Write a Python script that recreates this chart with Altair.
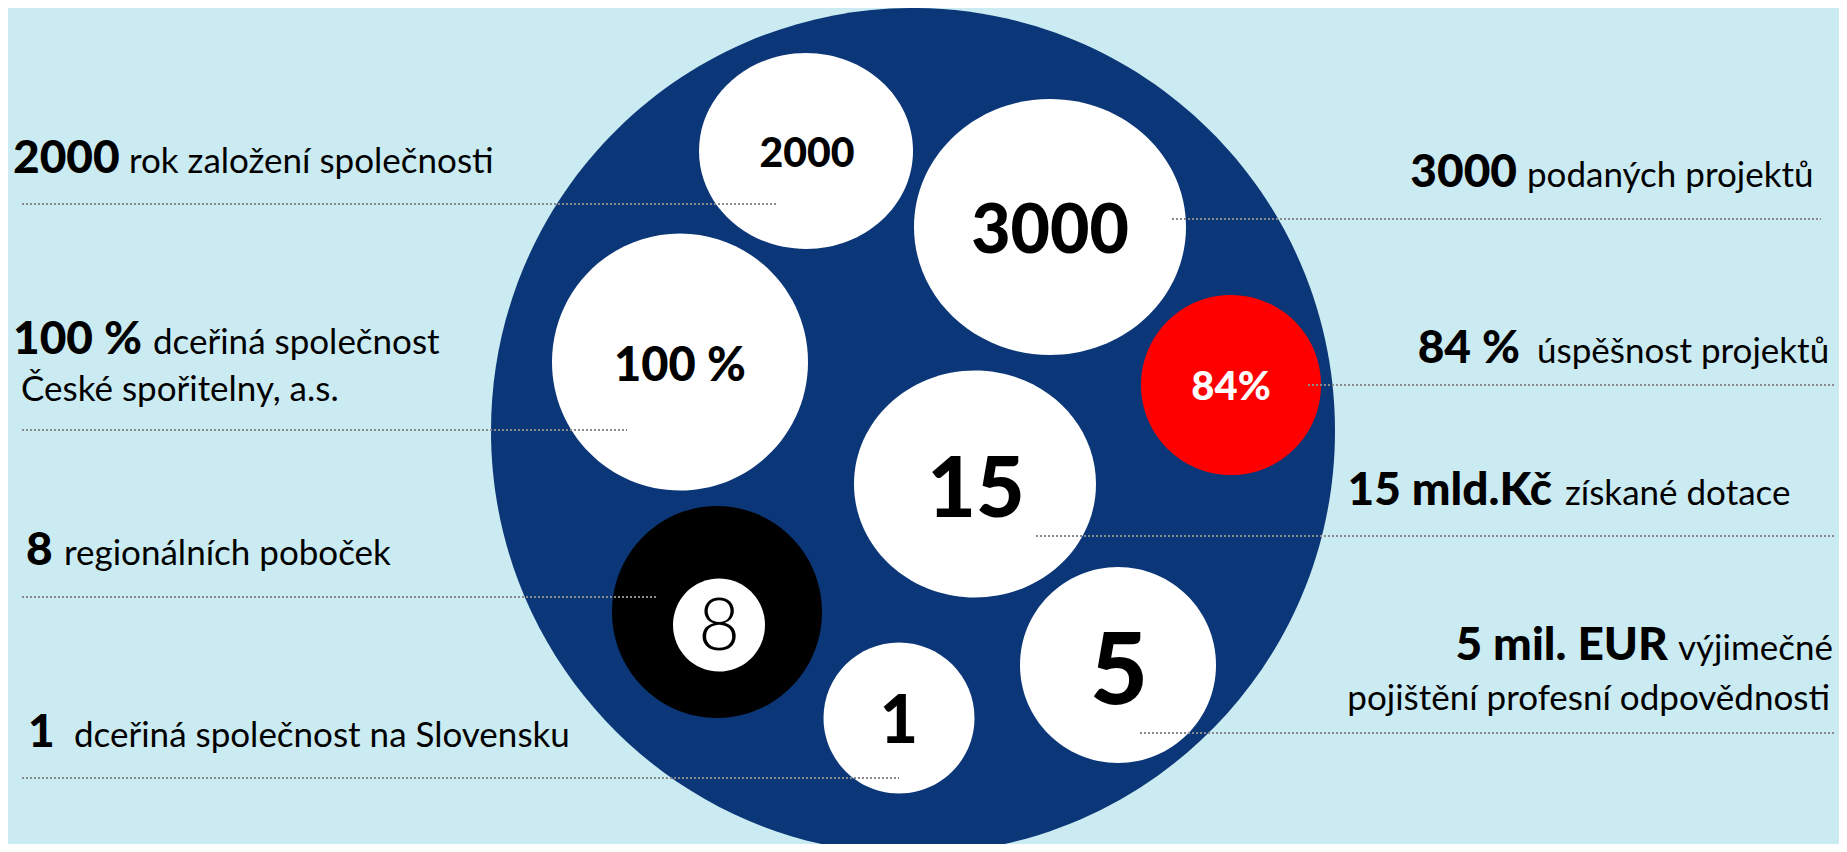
import altair as alt
import pandas as pd

# ---------------- data (values / texts) ----------------
left_figures = ["2000", "100 %", "8", "1"]
left_texts = ["rok založení společnosti", "dceřiná společnost",
              "regionálních poboček", "dceřiná společnost na Slovensku"]
left_extra = ["České spořitelny, a.s."]

right_figures = ["3000", "84 %", "15 mld.Kč", "5 mil. EUR"]
right_texts = ["podaných projektů", "úspěšnost projektů", "získané dotace", "výjimečné"]
right_extra = ["pojištění profesní odpovědnosti"]

bubble_labels = ["2000", "3000", "100 %", "84%", "15", "1", "5"]
ball_label = ["8"]

# ---------------- layout (page pixel positions) ----------------
# circles: centre x, centre y, radius x, radius y, fill
circ_x = [913, 806, 1050, 680, 1231, 975, 717, 719, 899, 1118]
circ_y = [431, 151, 227, 362, 385, 484, 612, 625, 718, 665]
circ_rx = [422, 107, 136, 128, 90, 121, 105, 46, 75.5, 98]
circ_ry = [423, 98, 128, 128.5, 90, 113.5, 106, 46.5, 75.5, 98]
circ_fill = ["#0b3677", "#ffffff", "#ffffff", "#ffffff", "#ff0000", "#ffffff",
             "#000000", "#ffffff", "#ffffff", "#ffffff"]

bub_x = [807, 1050, 680, 1231, 976, 899, 1119]
bub_y = [167, 253, 381, 400, 517, 743, 704]
bub_fs = [41, 68, 47, 40, 84, 66, 100]
bub_col = ["#000000", "#000000", "#000000", "#ffffff", "#000000", "#000000", "#000000"]
ball_x, ball_y, ball_fs = [719], [650], [72]

lf_x = [13, 13, 26, 28]
lf_y = [173, 354, 565, 747]
lt_x = [129, 153, 64, 74]
le_x, le_y = [21], [401]

rf_x = [1517, 1520, 1552, 1668]
rf_y = [187, 363, 505, 660]
rt_x = [1527, 1537, 1565, 1678]
re_x, re_y = [1830], [710]

line_x1 = [22, 1172, 1308, 22, 22, 22, 1036, 1140]
line_x2 = [778, 1821, 1834, 627, 656, 899, 1834, 1834]
line_y = [204, 219, 385, 430, 597, 778, 536, 733]

FONT = "Lato"
BG = "#cbebf2"


def ellipse_path(rx, ry):
    k = ry / rx
    return f"M-1,0A1,{k:.4f},0,1,1,1,0A1,{k:.4f},0,1,1,-1,0Z"


circles = pd.DataFrame({
    "x": circ_x, "y": circ_y,
    "size": [(2 * r) ** 2 for r in circ_rx],
    "shape": [ellipse_path(a, b) for a, b in zip(circ_rx, circ_ry)],
    "fill": circ_fill,
    "order": list(range(len(circ_x))),
})
bubbles = pd.DataFrame({"x": bub_x, "y": bub_y, "t": bubble_labels, "fs": bub_fs, "c": bub_col})
ball = pd.DataFrame({"x": ball_x, "y": ball_y, "t": ball_label, "fs": ball_fs})
lfig = pd.DataFrame({"x": lf_x, "y": lf_y, "t": left_figures})
ltxt = pd.DataFrame({"x": lt_x + le_x, "y": lf_y + le_y, "t": left_texts + left_extra})
rfig = pd.DataFrame({"x": rf_x, "y": rf_y, "t": right_figures})
rtxt = pd.DataFrame({"x": rt_x, "y": rf_y, "t": right_texts})
rext = pd.DataFrame({"x": re_x, "y": re_y, "t": right_extra})
lines = pd.DataFrame({"x": line_x1, "x2": line_x2, "y": line_y})

xs = alt.Scale(domain=[8, 1839], nice=False, zero=False)
ys = alt.Scale(domain=[8, 844], nice=False, zero=False, reverse=True)
X = alt.X("x:Q", scale=xs, axis=None)
Y = alt.Y("y:Q", scale=ys, axis=None)

circle_layer = alt.Chart(circles).mark_point(filled=True, opacity=1, strokeWidth=0).encode(
    x=X, y=Y,
    size=alt.Size("size:Q", scale=None, legend=None),
    shape=alt.Shape("shape:N", scale=None, legend=None),
    color=alt.Color("fill:N", scale=None, legend=None),
    order=alt.Order("order:Q"),
)

bubble_layer = alt.Chart(bubbles).mark_text(
    align="center", baseline="alphabetic", font=FONT, fontWeight=900
).encode(
    x=X, y=Y, text="t:N",
    size=alt.Size("fs:Q", scale=None, legend=None),
    color=alt.Color("c:N", scale=None, legend=None),
)

ball_layer = alt.Chart(ball).mark_text(
    align="center", baseline="alphabetic", font=FONT, fontWeight=300, color="#000000"
).encode(x=X, y=Y, text="t:N", size=alt.Size("fs:Q", scale=None, legend=None))

rule_layer = alt.Chart(lines).mark_rule(
    color="#8a8a8a", strokeWidth=2, strokeDash=[2, 2]
).encode(x=X, x2="x2:Q", y=Y)

lfig_layer = alt.Chart(lfig).mark_text(
    align="left", baseline="alphabetic", font=FONT, fontWeight=900, fontSize=46, color="#000000"
).encode(x=X, y=Y, text="t:N")

ltxt_layer = alt.Chart(ltxt).mark_text(
    align="left", baseline="alphabetic", font=FONT, fontSize=35, color="#000000"
).encode(x=X, y=Y, text="t:N")

rfig_layer = alt.Chart(rfig).mark_text(
    align="right", baseline="alphabetic", font=FONT, fontWeight=900, fontSize=46, color="#000000"
).encode(x=X, y=Y, text="t:N")

rtxt_layer = alt.Chart(rtxt).mark_text(
    align="left", baseline="alphabetic", font=FONT, fontSize=35, color="#000000"
).encode(x=X, y=Y, text="t:N")

rext_layer = alt.Chart(rext).mark_text(
    align="right", baseline="alphabetic", font=FONT, fontSize=35, color="#000000"
).encode(x=X, y=Y, text="t:N")

chart = alt.layer(
    circle_layer, bubble_layer, ball_layer, rule_layer,
    lfig_layer, ltxt_layer, rfig_layer, rtxt_layer, rext_layer,
).properties(
    width=1831, height=836, background=BG, padding=0,
    autosize=alt.AutoSizeParams(type="none"),
).configure_view(stroke=None)

chart.save("out.html", embed_options={"renderer": "svg", "actions": False})
